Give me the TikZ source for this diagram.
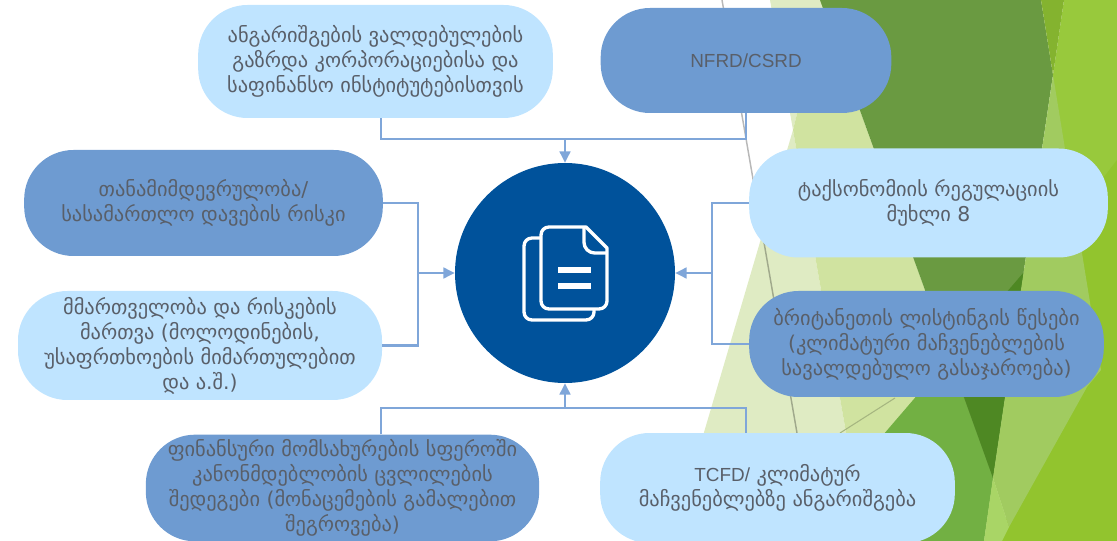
\documentclass[tikz,border=0pt]{standalone}
\usepackage{fontspec}
\setmainfont{DejaVu Sans}
\newfontfamily\latinfont{Liberation Sans}
\usetikzlibrary{arrows.meta}
\definecolor{skypill}{HTML}{BFE4FF}
\definecolor{bluepill}{HTML}{6E9BD1}
\definecolor{linkblue}{HTML}{7FA6D9}
\definecolor{hubblue}{HTML}{00529B}
\definecolor{inkgrey}{HTML}{595F69}
\definecolor{paleA}{HTML}{DFEBC3}
\definecolor{paleB}{HTML}{D0E3A0}
\definecolor{leafdark}{HTML}{6A9A41}
\definecolor{leafdeep}{HTML}{4E8823}
\definecolor{leafmid}{HTML}{72B043}
\definecolor{leafsoft}{HTML}{A1CB60}
\definecolor{leaflight}{HTML}{A9D566}
\definecolor{limetop}{HTML}{98C93C}
\definecolor{limelow}{HTML}{92C42E}
\definecolor{limedark}{HTML}{84B32F}
\tikzset{
  pill/.style={shape=rectangle,rounded corners=37pt,minimum height=#1,inner sep=0pt,text=inkgrey,align=center,font=\fontsize{15.3}{18.8}\selectfont},
  skybox/.style={pill=#1,fill=skypill},
  bluebox/.style={pill=#1,fill=bluepill},
  link/.style={color=linkblue,line width=1.9pt},
  sheet/.style={white,line width=2.5pt,line join=round}
}
\begin{document}
\begin{tikzpicture}[line cap=butt,line join=miter,>={Triangle[width=8pt,length=8.5pt]},x=0.75pt,y=-0.75pt]
\useasboundingbox (0,0) rectangle (1117,541);
\clip (0,0) rectangle (1117,541);
% background facets
\fill[paleA] (770,0) -- (825,0) -- (793,130) -- (865,541) -- (672,541) -- (793,130) -- cycle;
\fill[paleB] (825,0) -- (793,130) -- (865,541) -- (1016,541) -- (820,0) -- cycle;
\draw[color=paleB!80!black,line width=0.8pt] (895,398) -- (840,433);
\draw[color=black,opacity=0.28,line width=1.1pt] (722,0) -- (797,433);
\fill[leafmid] (1023,272) -- (792,541) -- (984,541) -- cycle;
\fill[leafdark] (820,0) -- (1041,0) -- (1053,75) -- (993,478) -- cycle;
\fill[leafdeep] (1024,272) -- (950,358) -- (993,478) -- cycle;
\fill[limetop] (1064,0) -- (1117,0) -- (1117,200) -- (1053,200) -- (1053,75) -- cycle;
\fill[limelow] (1117,160) -- (1040,260) -- (1040,400) -- (1000,541) -- (1117,541) -- cycle;
\fill[leafsoft] (1053,75) -- (993,478) -- (1009,527) -- (1087,387) -- (1101,370) -- cycle;
\fill[leaflight] (993,478) -- (984,541) -- (1002,541) -- (1009,527) -- cycle;
\fill[limedark] (1041,0) -- (1064,0) -- (1053,75) -- cycle;
% hub
\node[circle,fill=hubblue,minimum size=165pt,inner sep=0pt] (hub) at (565,273) {};
\draw[sheet,rounded corners=6pt] (607,248) -- (607,309) -- (541,309) -- (541,227) [sharp corners] -- (586,227) -- cycle;
\draw[sheet,rounded corners=8pt] (584,228) -- (584,253) [sharp corners] -- (607,253);
\draw[sheet,rounded corners=6pt] (540,238) -- (524,238) -- (524,320) -- (594,320) -- (594,310);
\fill[white] (558,267) rectangle (591,273);
\fill[white] (558,283) rectangle (591,289);
% boxes
\node[skybox=84.75pt,minimum width=266pt] (report) at (375.5,61.5) {ანგარიშგების ვალდებულების\\გაზრდა კორპორაციებისა  და\\საფინანსო ინსტიტუტებისთვის};
\node[bluebox=78.75pt,minimum width=218pt] (nfrd) at (746,60.5) {\latinfont\fontsize{14.2}{18.8}\selectfont NFRD/CSRD};
\node[bluebox=79.5pt,minimum width=269pt] (conflict) at (203.5,203) {თანამიმდევრულობა/\\სასამართლო დავების რისკი};
\node[skybox=81.75pt,minimum width=273pt] (govern) at (200,345.5) {მმართველობა და რისკების\\მართვა (მოლოდინების,\\უსაფრთხოების მიმართულებით\\და ა.შ.)};
\node[skybox=81.75pt,minimum width=269pt] (taxo) at (928.5,203) {ტაქსონომიის რეგულაციის\\მუხლი 8};
\node[bluebox=79.5pt,minimum width=266pt] (listing) at (926.5,344) {ბრიტანეთის ლისტინგის წესები\\(კლიმატური მაჩვენებლების\\სავალდებულო გასაჯაროება)};
\node[skybox=82.5pt,minimum width=266pt] (tcfd) at (777.5,488) {{\latinfont\fontsize{14.2}{18.8}\selectfont TCFD/} კლიმატურ\\მაჩვენებლებზე ანგარიშგება};
\node[bluebox=80pt,minimum width=295pt] (finance) at (342.5,488) {ფინანსური მომსახურების სფეროში\\კანონმდებლობის ცვლილების\\შედეგები (მონაცემების გამალებით\\შეგროვება)};
% junctions
\coordinate (topL) at (381,139);
\coordinate (topM) at (565,139);
\coordinate (topR) at (746,139);
\coordinate (botL) at (381,408);
\coordinate (botM) at (565,408);
\coordinate (botR) at (746,408);
\coordinate (leftM) at (418,273);
\coordinate (rightM) at (712,273);
% links
\draw[link] (topL |- report.south) -- (topL) -- (topR) -- (nfrd.south);
\draw[link] (botL |- finance.north) -- (botL) -- (botR) -- (botR |- tcfd.north);
\draw[link] (conflict.east) -| (leftM) |- (govern.east);
\draw[link] (taxo.west) -| (rightM) |- (listing.west);
\draw[link,->] (topM) -- (hub.north);
\draw[link,->] (botM) -- (hub.south);
\draw[link,->] (leftM) -- (hub.west);
\draw[link,->] (rightM) -- (hub.east);
\end{tikzpicture}
\end{document}
